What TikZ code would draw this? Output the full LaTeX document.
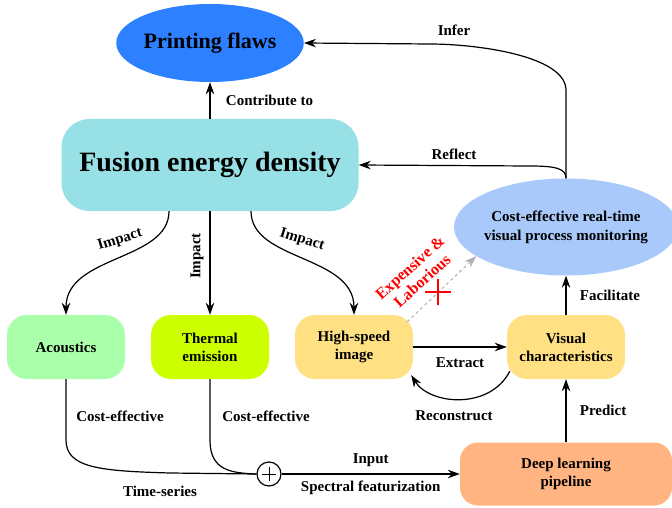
\documentclass[tikz,border=0pt]{standalone}
\usepackage{fontspec}
\setmainfont{Liberation Serif}
\usetikzlibrary{arrows.meta,shapes.geometric,shapes.misc}

\definecolor{flawblue}{RGB}{45,128,255}
\definecolor{fusioncyan}{RGB}{150,224,230}
\definecolor{monblue}{RGB}{169,201,250}
\definecolor{acgreen}{RGB}{170,255,170}
\definecolor{thermlime}{RGB}{204,255,0}
\definecolor{hsyellow}{RGB}{255,224,130}
\definecolor{dlorange}{RGB}{255,180,130}
\definecolor{dashgray}{RGB}{175,175,175}

\begin{document}
\begin{tikzpicture}[x=1pt,y=-1pt,
	box/.style={rectangle, rounded corners=20pt, minimum width=118pt, minimum height=64pt,
		align=center, font=\fontsize{15}{18}\selectfont\bfseries},
	lbl/.style={font=\fontsize{15}{18}\selectfont\bfseries},
	arr/.style={-{Stealth[length=12pt,width=8.5pt]}, line width=1.2pt},
	link/.style={line width=1.2pt}]
	\useasboundingbox (0,0) rectangle (672,508);

	% nodes
	\node[ellipse, fill=flawblue, inner sep=0pt, minimum width=186pt, minimum height=78pt,
		font=\fontsize{22}{26}\selectfont\bfseries] (flaws) at (210,43) {Printing flaws};
	\node[box, fill=fusioncyan, rounded corners=28pt, minimum width=297pt, minimum height=92pt,
		font=\fontsize{28}{32}\selectfont\bfseries] (fusion) at (210,165) {Fusion energy density};
	\node[ellipse, fill=monblue, inner xsep=-3pt, inner ysep=0pt, minimum width=224pt,
		minimum height=97pt, align=center, font=\fontsize{15}{19}\selectfont\bfseries]
		(monitor) at (566,227) {Cost-effective real-time\\visual process monitoring};

	\node[box, fill=acgreen] (acoustics) at (66,347) {Acoustics};
	\node[box, fill=thermlime] (thermal) at (210,347) {Thermal\\emission};
	\node[box, fill=hsyellow] (highspeed) at (354,347) {High-speed\\image};
	\node[box, fill=hsyellow] (visual) at (566,347) {Visual\\characteristics};
	\node[box, fill=dlorange, rounded corners=18pt, minimum width=212pt, minimum height=63pt]
		(deep) at (566,474) {Deep learning\\pipeline};

	\node[circle, draw, line width=1.2pt, fill=white, minimum size=24pt, inner sep=0pt,
		path picture={\draw[line width=1pt]
			([xshift=-7pt]path picture bounding box.center) -- ([xshift=7pt]path picture bounding box.center)
			([yshift=-7pt]path picture bounding box.center) -- ([yshift=7pt]path picture bounding box.center);}]
		(sum) at (269,474) {};

	% upper part
	\draw[arr] (fusion) -- (flaws) node[lbl, midway, right=12pt] {Contribute to};
	\draw[arr] (monitor.north) -- ++(0,-88) .. controls +(0,-35) and +(45,0) .. (430,44)
		-- (flaws.east) node[lbl] at (454,30) {Infer};
	\draw[arr] (monitor.north) .. controls +(0,-10) and +(25,0) .. (530,166)
		-- (fusion.east) node[lbl] at (454,154) {Reflect};

	\draw[arr] ([xshift=-41pt]fusion.south) .. controls +(0,50) and +(0,-60) .. (acoustics.north)
		node[lbl, rotate=17] at (120,240) {Impact};
	\draw[arr] (fusion) -- (thermal) node[lbl, rotate=90] at (197,256) {Impact};
	\draw[arr] ([xshift=41pt]fusion.south) .. controls +(0,50) and +(0,-60) .. (highspeed.north)
		node[lbl, rotate=-17] at (302,240) {Impact};

	% image branch
	\draw[arr, dashgray, line width=1pt, dashed] ([shift={(-6,7)}]highspeed.north east) -- (monitor.198)
		node[pos=.45, solid, cross out, draw=red, line width=1.6pt, rotate=45, minimum size=17pt, inner sep=0pt] {};
	\node[lbl, red, rotate=42, align=center, font=\fontsize{16}{18}\selectfont\bfseries]
		(costly) at (416,274) {Expensive \&\\Laborious};

	\draw[arr] (highspeed) -- (visual) node[lbl, midway, below=7pt] {Extract};
	\draw[arr] ([shift={(3,-8)}]visual.south west) .. controls (490,410) and (430,405)
		.. ([shift={(-2,-4)}]highspeed.south east) node[lbl] at (454,416) {Reconstruct};
	\draw[arr] (visual) -- (monitor) node[lbl, midway, right=10pt] {Facilitate};
	\draw[arr] (deep) -- (visual) node[lbl, midway, right=10pt] {Predict};

	% sensor branch
	\draw[link] (acoustics) -- (66,440) .. controls (66,468) and (100,471) .. (170,473) -- (sum.west)
		node[lbl] at (120,416) {Cost-effective}
		node[lbl] at (160,491) {Time-series};
	\draw[link] (thermal) -- (210,440) .. controls (210,470) and (230,473) .. (sum.west)
		node[lbl] at (266,416) {Cost-effective};
	\draw[arr] (sum) -- (deep)
		node[lbl, midway, above=3pt] {Input}
		node[lbl, midway, below=3pt] {Spectral featurization};
\end{tikzpicture}
\end{document}
